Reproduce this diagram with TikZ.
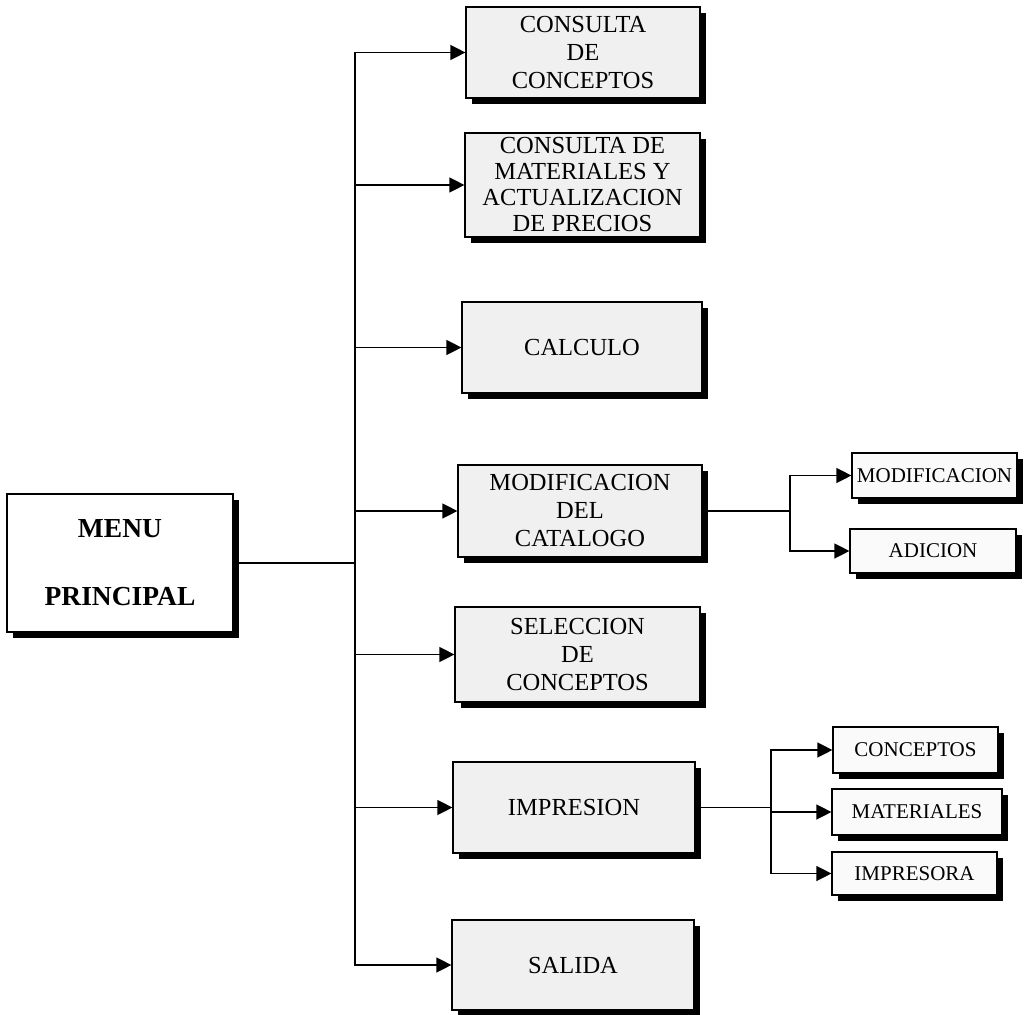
\documentclass[tikz,border=0pt]{standalone}
\usepackage{fontspec}
\setmainfont{Liberation Serif}
\usetikzlibrary{arrows.meta,shadows}
\begin{document}
\begin{tikzpicture}[x=1pt,y=-1pt,
  line width=1.3pt,
  shbox/.style={draw=black, line width=1.2pt, inner sep=0pt, align=center,
    drop shadow={shadow xshift=6pt, shadow yshift=-6pt, fill=black, opacity=1}},
  mainbox/.style={shbox, fill=gray!12, minimum width=240pt, minimum height=92pt,
    font=\fontsize{24.5}{28}\selectfont},
  subbox/.style={shbox, fill=gray!4, minimum width=166pt, minimum height=45pt,
    font=\fontsize{21}{24}\selectfont},
  arr/.style={-{Triangle[length=15pt,width=15pt]}}
]
\useasboundingbox[fill=white] (0,0) rectangle (1030,1014);

% main menu
\node[shbox, fill=white, minimum width=226pt, minimum height=138pt,
  font=\bfseries\fontsize{27.5}{32}\selectfont] (menu) at (120,563) {MENU\\[36pt]PRINCIPAL};

% main options
\node[mainbox, minimum width=234pt, minimum height=91pt] (c1) at (583,52.5) {CONSULTA\\DE\\CONCEPTOS};
\node[mainbox, minimum width=235pt, minimum height=104pt, font=\fontsize{24.5}{26}\selectfont] (c2) at (582.5,185)
  {CONSULTA DE\\MATERIALES Y\\ACTUALIZACION\\DE PRECIOS};
\node[mainbox, minimum height=91pt] (c3) at (582,347.5) {CALCULO};
\node[mainbox, minimum width=244pt] (c4) at (580,511) {MODIFICACION\\DEL\\CATALOGO};
\node[mainbox, minimum width=245pt, minimum height=95pt] (c5) at (577.5,654.5) {SELECCION\\DE\\CONCEPTOS};
\node[mainbox, minimum width=242pt, minimum height=91pt] (c6) at (574,807.5) {IMPRESION};
\node[mainbox, minimum width=242pt, minimum height=90pt] (c7) at (573,965) {SALIDA};

% sub options
\node[subbox, minimum width=165pt] (m1) at (934.5,475.5) {MODIFICACION};
\node[subbox, minimum height=44pt] (m2) at (933,551) {ADICION};
\node[subbox, minimum width=165pt, minimum height=46pt] (p1) at (915.5,750) {CONCEPTOS};
\node[subbox, minimum width=170pt, minimum height=46pt] (p2) at (917,812) {MATERIALES};
\node[subbox, minimum width=165pt, minimum height=43pt] (p3) at (914.5,873.5) {IMPRESORA};

% connectors
\coordinate (t) at (355,563);
\draw (menu.east) -- (t);
\foreach \n in {c1,c2,c3,c4,c5,c6,c7}
  \draw[arr] (t) |- (\n.west);

\coordinate (j1) at (790,511);
\draw (c4.east) -- (j1);
\draw[arr] (j1) |- (m1.west);
\draw[arr] (j1) |- (m2.west);

\coordinate (j2) at (771,807.5);
\draw (c6.east) -- (j2);
\draw[arr] (j2) |- (p1.west);
\draw[arr] (j2) |- (p2.west);
\draw[arr] (j2) |- (p3.west);
\end{tikzpicture}
\end{document}
